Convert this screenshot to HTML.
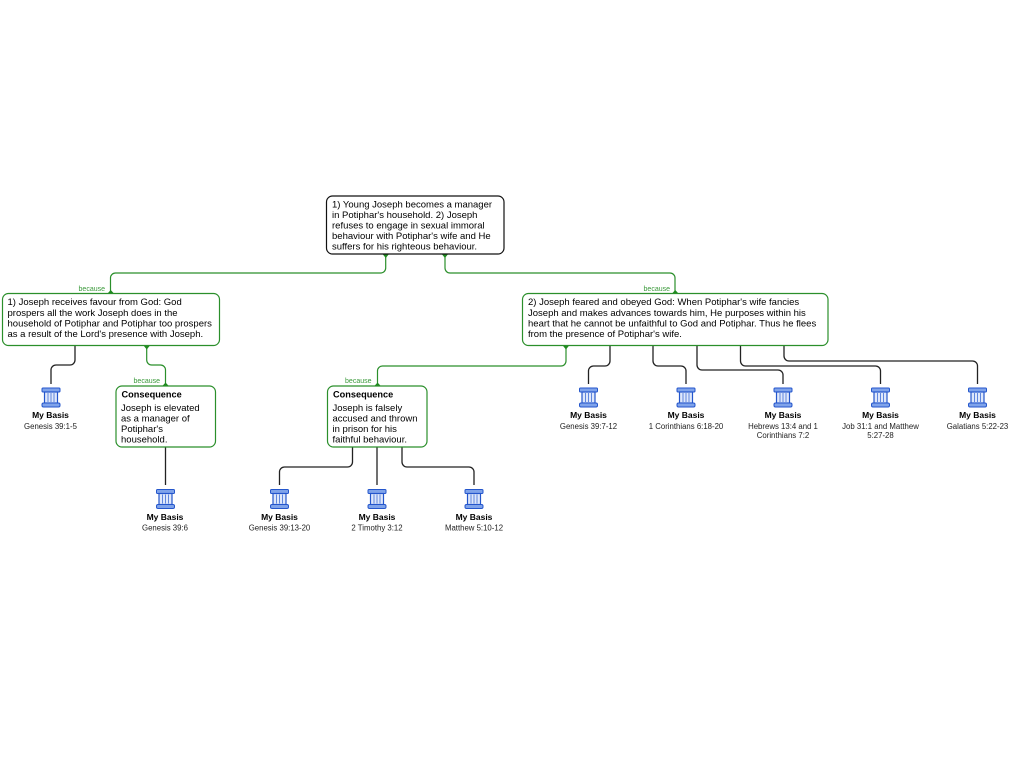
<!DOCTYPE html>
<html><head><meta charset="utf-8"><style>
html,body{margin:0;padding:0;background:#fff;width:1024px;height:768px;overflow:hidden}
svg{display:block;font-family:"Liberation Sans",Arial,sans-serif}
.t{font-size:9.5px;fill:#000}
.h{font-size:9.2px;font-weight:bold;fill:#000}
.b{font-size:8.5px;font-weight:bold;fill:#000;text-anchor:middle}
.r{font-size:7.8px;fill:#222;text-anchor:middle}
.c{font-size:7px;fill:#3a9a3a;text-anchor:end}
.g{fill:none;stroke:#2b8f2b;stroke-width:1.2}
.k{fill:none;stroke:#222;stroke-width:1.3}
.bx{fill:#fff;stroke:#2b8f2b;stroke-width:1.2}
</style></head><body>
<svg width="1024" height="768" viewBox="0 0 1024 768" xmlns="http://www.w3.org/2000/svg">
<defs>
<g id="p">
<rect x="-9" y="0" width="18" height="4" rx="1" fill="#7fa3ea" stroke="#2456cc" stroke-width="1"/>
<rect x="-6.500" y="4" width="13" height="11" fill="#dfe8fb" stroke="#2456cc" stroke-width="1.2"/>
<path d="M-3 5v9M0 5v9M3 5v9" stroke="#5f86dd" stroke-width="1"/>
<rect x="-9" y="15" width="18" height="4" rx="1.500" fill="#7fa3ea" stroke="#2456cc" stroke-width="1"/>
</g>
</defs>

<!-- green connectors -->
<path class="g" d="M385.700 254V268a5 5 0 0 1-5 5H115.500a5 5 0 0 0-5 5V293"/>
<path class="g" d="M445 254V268a5 5 0 0 0 5 5H670a5 5 0 0 1 5 5V293"/>
<path class="g" d="M146.700 346V360a5 5 0 0 0 5 5H160.500a5 5 0 0 1 5 5V386"/>
<path class="g" d="M566 346V361a5 5 0 0 1-5 5H382.500a5 5 0 0 0-5 5V386"/>

<!-- arrowheads -->
<g fill="#1f8a1f">
<path d="M382.500 254h6.500l-3.250 4z"/><path d="M441.700 254h6.500l-3.250 4z"/>
<path d="M107.500 293.500h6.500l-3.250-3.500z"/><path d="M672 293.500h6.500l-3.250-3.500z"/>
<path d="M143.500 345.500h6.500l-3.250 4z"/><path d="M562.700 345.500h6.500l-3.250 4z"/>
<path d="M162.300 386h6.500l-3.250-3.500z"/><path d="M374.300 386h6.500l-3.250-3.500z"/>
</g>

<!-- black connectors -->
<path class="k" d="M75 345V360a5 5 0 0 1-5 5H56a5 5 0 0 0-5 5V384"/>
<path class="k" d="M165.500 447V485"/>
<path class="k" d="M352.500 447V462a5 5 0 0 1-5 5H284.500a5 5 0 0 0-5 5V485"/>
<path class="k" d="M377 447V485"/>
<path class="k" d="M402 447V462a5 5 0 0 0 5 5H469a5 5 0 0 1 5 5V485"/>
<path class="k" d="M610 346V361a5 5 0 0 1-5 5H593.500a5 5 0 0 0-5 5V384"/>
<path class="k" d="M653 346V361a5 5 0 0 0 5 5H681a5 5 0 0 1 5 5V384"/>
<path class="k" d="M697 346V365a5 5 0 0 0 5 5H778a5 5 0 0 1 5 5V384"/>
<path class="k" d="M740.500 346V361a5 5 0 0 0 5 5H875.500a5 5 0 0 1 5 5V384"/>
<path class="k" d="M784 346V356a5 5 0 0 0 5 5H972.500a5 5 0 0 1 5 5V384"/>

<!-- root -->
<rect x="326.500" y="196" width="177.500" height="58" rx="6" fill="#fff" stroke="#111" stroke-width="1.2"/>
<text class="t" x="332" y="207.500">1) Young Joseph becomes a manager</text>
<text class="t" x="332" y="218">in Potiphar's household. 2) Joseph</text>
<text class="t" x="332" y="228.500">refuses to engage in sexual immoral</text>
<text class="t" x="332" y="239">behaviour with Potiphar's wife and He</text>
<text class="t" x="332" y="249.500">suffers for his righteous behaviour.</text>

<!-- left -->
<rect class="bx" x="2.500" y="293.500" width="217" height="52" rx="6"/>
<text class="t" x="7.500" y="305">1) Joseph receives favour from God: God</text>
<text class="t" x="7.500" y="316">prospers all the work Joseph does in the</text>
<text class="t" x="7.500" y="326.500">household of Potiphar and Potiphar too prospers</text>
<text class="t" x="7.500" y="337">as a result of the Lord's presence with Joseph.</text>

<!-- right -->
<rect class="bx" x="522.500" y="293.500" width="305.500" height="52" rx="6"/>
<text class="t" x="528" y="305">2) Joseph feared and obeyed God: When Potiphar's wife fancies</text>
<text class="t" x="528" y="316">Joseph and makes advances towards him, He purposes within his</text>
<text class="t" x="528" y="326.500">heart that he cannot be unfaithful to God and Potiphar. Thus he flees</text>
<text class="t" x="528" y="337">from the presence of Potiphar's wife.</text>

<!-- consequence 1 -->
<rect class="bx" x="116" y="386" width="99.500" height="61" rx="6"/>
<text class="h" x="121.500" y="397.500">Consequence</text>
<text class="t" x="121" y="411">Joseph is elevated</text>
<text class="t" x="121" y="421.500">as a manager of</text>
<text class="t" x="121" y="432">Potiphar's</text>
<text class="t" x="121" y="442.500">household.</text>

<!-- consequence 2 -->
<rect class="bx" x="327.500" y="386" width="99.500" height="61" rx="6"/>
<text class="h" x="333" y="397.500">Consequence</text>
<text class="t" x="332.500" y="411">Joseph is falsely</text>
<text class="t" x="332.500" y="421.500">accused and thrown</text>
<text class="t" x="332.500" y="432">in prison for his</text>
<text class="t" x="332.500" y="442.500">faithful behaviour.</text>

<!-- because -->
<text class="c" x="105" y="291">because</text>
<text class="c" x="670" y="291">because</text>
<text class="c" x="160" y="383">because</text>
<text class="c" x="371.500" y="383">because</text>

<!-- pillars -->
<use href="#p" x="51" y="388"/>
<use href="#p" x="165.500" y="489.500"/>
<use href="#p" x="279.500" y="489.500"/>
<use href="#p" x="377" y="489.500"/>
<use href="#p" x="474" y="489.500"/>
<use href="#p" x="588.500" y="388"/>
<use href="#p" x="686" y="388"/>
<use href="#p" x="783" y="388"/>
<use href="#p" x="880.500" y="388"/>
<use href="#p" x="977.500" y="388"/>

<!-- basis labels -->
<text class="b" x="50.500" y="418">My Basis</text><text class="r" x="50.500" y="429">Genesis 39:1-5</text>
<text class="b" x="165" y="520">My Basis</text><text class="r" x="165" y="530.500">Genesis 39:6</text>
<text class="b" x="279.500" y="520">My Basis</text><text class="r" x="279.500" y="530.500">Genesis 39:13-20</text>
<text class="b" x="377" y="520">My Basis</text><text class="r" x="377" y="530.500">2 Timothy 3:12</text>
<text class="b" x="474" y="520">My Basis</text><text class="r" x="474" y="530.500">Matthew 5:10-12</text>
<text class="b" x="588.500" y="418">My Basis</text><text class="r" x="588.500" y="429">Genesis 39:7-12</text>
<text class="b" x="686" y="418">My Basis</text><text class="r" x="686" y="429">1 Corinthians 6:18-20</text>
<text class="b" x="783" y="418">My Basis</text><text class="r" x="783" y="429">Hebrews 13:4 and 1</text><text class="r" x="783" y="438">Corinthians 7:2</text>
<text class="b" x="880.500" y="418">My Basis</text><text class="r" x="880.500" y="429">Job 31:1 and Matthew</text><text class="r" x="880.500" y="438">5:27-28</text>
<text class="b" x="977.500" y="418">My Basis</text><text class="r" x="977.500" y="429">Galatians 5:22-23</text>
</svg>
</body></html>
